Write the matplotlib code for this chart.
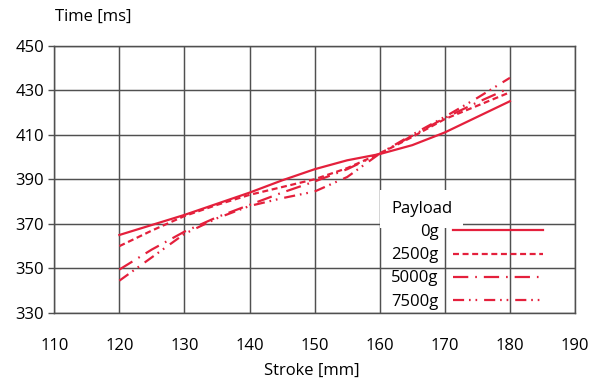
import matplotlib
matplotlib.use("Agg")
import matplotlib.pyplot as plt

plt.rcParams['font.family'] = ['Open Sans', 'DejaVu Sans']
plt.rcParams['lines.scale_dashes'] = False

# ---- data ----
stroke = [120, 125, 130, 135, 140, 145, 150, 155, 160, 165, 170, 175, 180]
time_0g = [365, 369.5, 374, 379, 384, 389.5, 394.5, 398.5, 401.3, 405.3, 411, 418, 425]
time_2500g = [360, 367, 373.5, 378.5, 383, 386.5, 390, 395, 401.5, 409, 417, 423, 429]
time_5000g = [349.5, 358.5, 366.5, 373, 378.5, 384, 389, 394.5, 401.5, 409.5, 417.5, 424.5, 431]
time_7500g = [344.5, 355, 365.5, 372.5, 378, 381.5, 384.5, 391, 401.5, 410, 418, 426.5, 435.5]
series_labels = ['0g', '2500g', '5000g', '7500g']
x_ticks = [110, 120, 130, 140, 150, 160, 170, 180, 190]
y_ticks = [330, 350, 370, 390, 410, 430, 450]

red = '#E4203C'
grid_c = '#505050'
fs = 12

fig = plt.figure(figsize=(5.9, 3.85), dpi=100)
W, H = 590, 385
left, right, top, bottom = 54.3, 575, 45.5, 313
ax = fig.add_axes([left / W, 1 - bottom / H, (right - left) / W, (bottom - top) / H])

styles = [
    dict(linestyle='-'),
    dict(linestyle=(0, (4.3, 2.6))),
    dict(linestyle=(0, (11, 5, 1.2, 5))),
    dict(linestyle=(0, (8, 3.5, 1.2, 3.5, 1.2, 5))),
]
for ys, lab, st in zip([time_0g, time_2500g, time_5000g, time_7500g], series_labels, styles):
    ax.plot(stroke, ys, color=red, lw=1.6, label=lab, **st)

ax.set_xlim(110, 190)
ax.set_ylim(330, 450)
ax.set_xticks(x_ticks)
ax.set_yticks(y_ticks)
ax.grid(True, color=grid_c, lw=1.05)
ax.set_axisbelow(True)
for s in ax.spines.values():
    s.set_color(grid_c)
    s.set_linewidth(1.05)
ax.tick_params(axis='y', length=4, width=1.0, color=grid_c, labelsize=fs, pad=3.5)
ax.tick_params(axis='x', length=0, labelsize=fs, pad=18)

ax.set_xlabel('Stroke [mm]', fontsize=fs)
ax.xaxis.set_label_coords((312 - left) / (right - left), (bottom - 371) / (bottom - top))
ax.xaxis.label.set_va('center')
ax.set_ylabel('Time [ms]', fontsize=fs, rotation=0, ha='left', va='center')
ax.yaxis.set_label_coords((55 - left) / (right - left), (bottom - 17) / (bottom - top))

leg = ax.legend(title='Payload', frameon=False, markerfirst=False,
                fontsize=fs, title_fontsize=fs, alignment='left',
                handlelength=5.4, handletextpad=0.85, labelspacing=0.43,
                loc='upper left', bbox_to_anchor=((391 - left) / (right - left), (bottom - 201) / (bottom - top)),
                borderaxespad=0, borderpad=0)
leg.get_title().set_bbox(dict(facecolor='white', edgecolor='none', boxstyle='square,pad=0.65'))

fig.savefig('out.png', dpi=100)
